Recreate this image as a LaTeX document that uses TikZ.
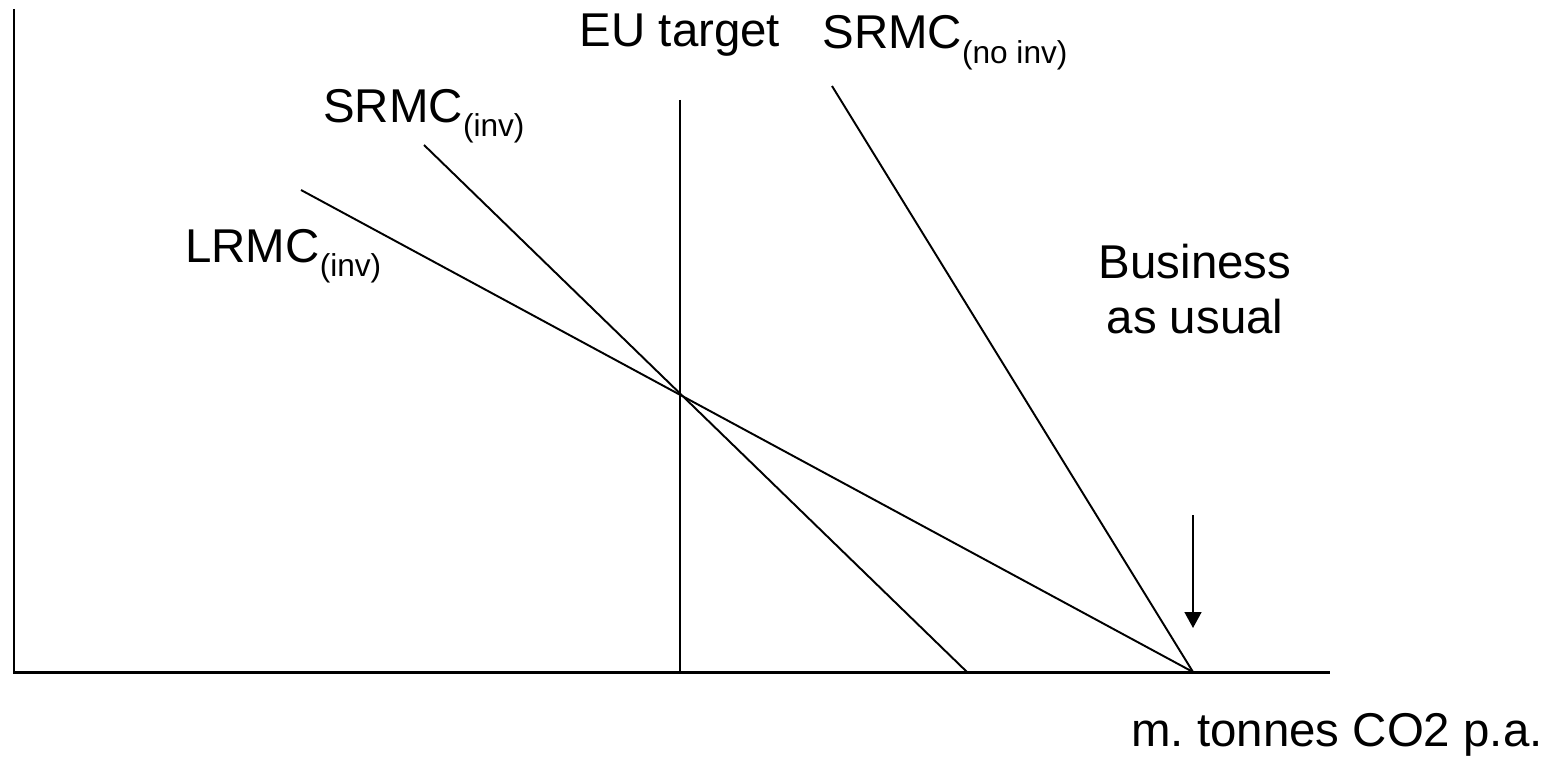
\documentclass[tikz,border=0pt]{standalone}
\usepackage{fontspec}
\setmainfont{Liberation Sans}
\usetikzlibrary{arrows.meta}
\frenchspacing

\newcommand{\sbt}[1]{\raisebox{-0.3em}{\fontsize{18}{21}\selectfont #1}}

\begin{document}
\begin{tikzpicture}[x=0.02cm,y=-0.02cm,
    lbl/.style={inner sep=0pt,font=\fontsize{27}{31}\selectfont},
    curve/.style={line width=1.1pt},
    axis/.style={line width=1.7pt}]
\useasboundingbox (0,0) rectangle (1551,757);

% axes
\coordinate (top) at (14,9);
\coordinate (o) at (14,672);
\coordinate (xend) at (1330,672);
\draw[axis] (top) -- (o) -- (xend);

% end points of the lines
\coordinate (eutop) at (680,100);
\coordinate (eubot) at (680,672);
\coordinate (sitop) at (424,145);
\coordinate (sibot) at (967,672);
\coordinate (litop) at (301,190);
\coordinate (bau) at (1193,672);
\coordinate (snitop) at (832,86);
\coordinate (arrtop) at (1193,515);
\coordinate (arrtip) at (1193,628);

\draw[curve] (eutop) -- (eubot);
\draw[curve] (sitop) -- (sibot);
\draw[curve] (litop) -- (bau);
\draw[curve] (snitop) -- (bau);
\draw[curve,-{Triangle[length=9pt,width=9.5pt]}] (arrtop) -- (arrtip);

% labels
\node[lbl,anchor=base] (eu) at (680,47) {EU target};
\node[lbl,anchor=base west] (srmcni) at (822,49) {SRMC\sbt{(no inv)}};
\node[lbl,anchor=base west] (srmci) at (323,122) {SRMC\sbt{(inv)}};
\node[lbl,anchor=base west] (lrmci) at (185,262) {LRMC\sbt{(inv)}};
\node[lbl,anchor=north,align=center] (busi) at (1195,244) {Business\\as usual};
\node[lbl,anchor=base east] (xlab) at (1543,746) {m. tonnes CO2 p.a.};

\end{tikzpicture}
\end{document}
